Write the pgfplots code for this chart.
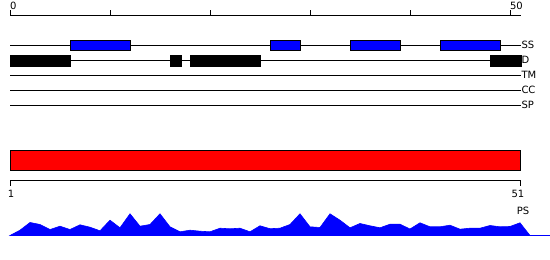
\documentclass[border=0pt]{standalone}
\usepackage{pgfplots}
\pgfplotsset{compat=1.18}
\usepackage{fontspec}
\setmainfont{DejaVu Sans}
\tikzset{lbl/.style={font=\fontsize{10}{11}\selectfont, inner sep=0pt, outer sep=0pt}}
\begin{document}
\begin{tikzpicture}[x=1pt,y=1pt]
% ---------- tracks (y in pixels from top) ----------
\begin{axis}[
  at={(0,0)}, anchor=south west,
  scale only axis, width=550pt, height=260pt,
  xmin=-1, xmax=54, ymin=0, ymax=260, y dir=reverse,
  hide axis, clip=false,
]
% top ruler
\addplot[black, line width=1pt] coordinates {(0,15) (51.1,15)};
\foreach \t in {0,10,20,30,40,50} {
  \edef\tmp{\noexpand\addplot[black, line width=1pt] coordinates {(\t,10) (\t,15)};}\tmp
}
\node[lbl, anchor=south west] at (axis cs:0,9.2) {0};
\node[lbl, anchor=south west] at (axis cs:50,9.2) {50};
% track lines
\addplot[black, line width=1pt] coordinates {(0,45) (51.1,45)};
\addplot[black, line width=1pt] coordinates {(0,60) (51.1,60)};
\addplot[black, line width=1pt] coordinates {(0,75) (51.1,75)};
\addplot[black, line width=1pt] coordinates {(0,90) (51.1,90)};
\addplot[black, line width=1pt] coordinates {(0,105) (51.1,105)};
% SS boxes
\addplot[fill=blue, draw=black, line width=1pt] coordinates {(6,40.5) (12,40.5) (12,50.5) (6,50.5)} -- cycle;
\addplot[fill=blue, draw=black, line width=1pt] coordinates {(26,40.5) (29,40.5) (29,50.5) (26,50.5)} -- cycle;
\addplot[fill=blue, draw=black, line width=1pt] coordinates {(34,40.5) (39,40.5) (39,50.5) (34,50.5)} -- cycle;
\addplot[fill=blue, draw=black, line width=1pt] coordinates {(43,40.5) (49,40.5) (49,50.5) (43,50.5)} -- cycle;
% D boxes
\addplot[fill=black, draw=black] coordinates {(0,55) (6.05,55) (6.05,65.7) (0,65.7)} -- cycle;
\addplot[fill=black, draw=black] coordinates {(16,55) (17.1,55) (17.1,65.7) (16,65.7)} -- cycle;
\addplot[fill=black, draw=black] coordinates {(18,55) (25.05,55) (25.05,65.7) (18,65.7)} -- cycle;
\addplot[fill=black, draw=black] coordinates {(48,55) (51.1,55) (51.1,65.7) (48,65.7)} -- cycle;
% labels
\node[lbl, anchor=west] at (axis cs:51.15,45) {SS};
\node[lbl, anchor=west] at (axis cs:51.15,60) {D};
\node[lbl, anchor=west] at (axis cs:51.15,75) {TM};
\node[lbl, anchor=west] at (axis cs:51.15,90) {CC};
\node[lbl, anchor=west] at (axis cs:51.15,105) {SP};
% red bar
\addplot[fill=red, draw=black, line width=1pt] coordinates {(0,150.5) (51.05,150.5) (51.05,170.5) (0,170.5)} -- cycle;
% bottom ruler
\addplot[black, line width=1pt] coordinates {(0,185.5) (0,180.5) (51,180.5) (51,185.5)};
\node[lbl, anchor=north] at (axis cs:0.1,190.3) {1};
\node[lbl, anchor=north] at (axis cs:50.8,190.3) {51};
\node[lbl, anchor=north] at (axis cs:51.3,206.7) {PS};
\end{axis}
% ---------- profile (heights in pixels) ----------
\begin{axis}[
  at={(0,0)}, anchor=south west,
  scale only axis, width=550pt, height=260pt,
  xmin=-1, xmax=54, ymin=-24.5, ymax=235.5,
  hide axis, clip=false,
]
\addplot[fill=blue, draw=blue, line width=0.6pt] coordinates {
(0,0) (1,5.3) (2,13) (3,11) (4,6) (5,9.3) (6,6) (7,10.7) (8,8.3) (9,4.7)
(10,15.3) (11,7.7) (12,21.7) (13,9.3) (14,11) (15,21.7) (16,8.7) (17,3.7) (18,5.3) (19,4.3)
(20,3.7) (21,7.3) (22,6.7) (23,7.3) (24,3.7) (25,9.7) (26,6.8) (27,7.3) (28,11) (29,21.7)
(30,8.7) (31,8) (32,21.7) (33,15.3) (34,7.7) (35,12) (36,9.7) (37,7.7) (38,11.3) (39,11.3)
(40,6.5) (41,12.7) (42,8.7) (43,8.7) (44,10.3) (45,6.3) (46,7.3) (47,7.3) (48,10) (49,8.7)
(50,9) (51,12.7) (52,0)
} \closedcycle;
\addplot[blue, line width=1pt] coordinates {(52,0) (54,0)};
\end{axis}
\pgfresetboundingbox
\path (0,0) rectangle (550,260);
\end{tikzpicture}
\end{document}
